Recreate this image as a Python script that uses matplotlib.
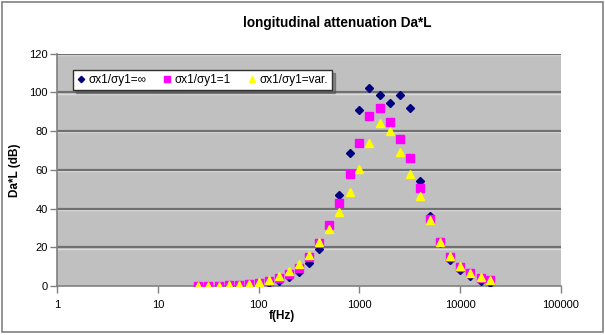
import matplotlib
matplotlib.use("Agg")
import matplotlib.pyplot as plt
from matplotlib.patches import Rectangle
from matplotlib.ticker import FixedLocator, FixedFormatter, NullLocator

# third-octave band centre frequencies (Hz)
freqs = [25, 31.5, 40, 50, 63, 80, 100, 125, 160, 200, 250, 315, 400, 500, 630,
         800, 1000, 1250, 1600, 2000, 2500, 3150, 4000, 5000, 6300, 8000,
         10000, 12500, 16000, 20000]

# Da*L (dB) for sigma_x1/sigma_y1 = infinity
da_inf = [0.0, 0.0, 0.0, 0.3, 0.5, 0.8, 1.2, 1.8, 2.8, 4.8, 7.4, 11.9, 19.3,
          31.0, 46.9, 68.6, 90.9, 102.3, 98.7, 94.7, 98.8, 92.1, 54.3, 36.3,
          22.0, 13.4, 8.3, 5.2, 2.8, 1.5]
# sigma_x1/sigma_y1 = 1
da_one = [0.0, 0.1, 0.2, 0.4, 0.6, 1.0, 1.6, 2.5, 4.0, 6.0, 9.1, 14.8, 22.0,
          31.3, 43.1, 57.9, 73.6, 88.0, 92.1, 84.9, 76.0, 66.0, 50.4, 34.5,
          22.5, 14.8, 9.6, 6.7, 4.1, 3.1]
# sigma_x1/sigma_y1 = variable
da_var = [0.1, 0.2, 0.3, 0.5, 0.8, 1.3, 2.0, 3.3, 5.2, 7.9, 11.5, 16.2, 22.5,
          29.7, 38.3, 48.5, 60.2, 73.6, 84.2, 79.8, 69.0, 58.1, 46.6, 34.0,
          23.0, 15.3, 10.3, 7.0, 4.6, 3.3]

labels = ["σx1/σy1=∞", "σx1/σy1=1", "σx1/σy1=var."]
x_ticks = [1, 10, 100, 1000, 10000, 100000]
x_ticklabels = ["1", "10", "100", "1000", "10000", "100000"]
y_ticks = [0, 20, 40, 60, 80, 100, 120]

plt.rcParams["font.family"] = ["Liberation Sans", "DejaVu Sans"]

fig = plt.figure(figsize=(6.05, 3.35), dpi=100)
fig.patch.set_facecolor("white")
fig.patches.append(Rectangle((0.004, 0.008), 0.992, 0.985, transform=fig.transFigure,
                             fill=False, edgecolor="#808080", linewidth=1.2))

ax = fig.add_axes([0.095, 0.146, 0.832, 0.694])
ax.set_facecolor("#C0C0C0")
ax.set_xscale("log")
ax.set_xlim(1, 100000)
ax.set_ylim(0, 120)

for y in y_ticks[1:]:
    ax.axhline(y - 0.6, color="#dcdcdc", linewidth=1.0, zorder=1)
    ax.axhline(y, color="#707070", linewidth=1.6, zorder=1.1)

ax.plot(freqs, da_inf, linestyle="none", marker="D", markersize=4,
        color="#000080", label=labels[0], zorder=3)
ax.plot(freqs, da_one, linestyle="none", marker="s", markersize=6,
        color="#FF00FF", label=labels[1], zorder=4)
ax.plot(freqs, da_var, linestyle="none", marker="^", markersize=6,
        color="#FFFF00", label=labels[2], zorder=5)

ax.xaxis.set_major_locator(FixedLocator(x_ticks))
ax.xaxis.set_major_formatter(FixedFormatter(x_ticklabels))
ax.xaxis.set_minor_locator(NullLocator())
ax.set_yticks(y_ticks)
ax.tick_params(axis="both", labelsize=8, color="#808080", length=5, width=1)
ax.tick_params(axis="x", direction="out", pad=5)
ax.tick_params(axis="y", direction="out", pad=2)

for side in ["top", "right"]:
    ax.spines[side].set_visible(False)
for side in ["left", "bottom"]:
    ax.spines[side].set_color("#808080")
    ax.spines[side].set_linewidth(1.2)

ax.set_xlabel("f(Hz)", fontsize=8.5, fontweight="bold")
ax.set_ylabel("Da*L (dB)", fontsize=8.5, fontweight="bold")
ax.xaxis.set_label_coords(0.446, -0.103)
ax.yaxis.set_label_coords(-0.073, 0.5)

leg = ax.legend(loc="upper left", bbox_to_anchor=(0.02, 0.955), ncol=3,
                fontsize=8.5, frameon=True, fancybox=False, shadow=True,
                handlelength=0.6, handletextpad=0.3, columnspacing=1.5,
                borderpad=0.35, markerscale=0.8)
leg.get_frame().set_edgecolor("#303030")
leg.get_frame().set_linewidth(1.0)

fig.text(337 / 605, 1 - 23 / 335, "longitudinal attenuation Da*L", ha="center",
         va="center", fontsize=9.8, fontweight="bold")

fig.savefig("out.png", dpi=100)
